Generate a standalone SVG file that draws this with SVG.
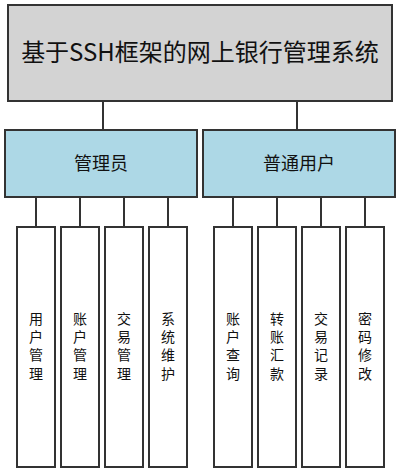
<svg xmlns="http://www.w3.org/2000/svg" width="400" height="473" viewBox="0 0 400 473">
<style>
.box{stroke:#333;stroke-width:2}
.root{fill:#d3d3d3}
.mid{fill:#add8e6}
.leaf{fill:#fff}
.t{font-family:"Noto Sans CJK SC","Noto Sans",sans-serif;fill:#111;text-anchor:middle}
.v{font-size:14px;writing-mode:vertical-rl;letter-spacing:4.3px}
.conn line{stroke:#333;stroke-width:2}
</style>
<rect width="400" height="473" fill="#fff"/>
<g class="conn">
<line x1="103" y1="101" x2="103" y2="130"/>
<line x1="297" y1="101" x2="297" y2="130"/>
<line x1="36" y1="197" x2="36" y2="227"/>
<line x1="80" y1="197" x2="80" y2="227"/>
<line x1="124" y1="197" x2="124" y2="227"/>
<line x1="168" y1="197" x2="168" y2="227"/>
<line x1="233" y1="197" x2="233" y2="227"/>
<line x1="277" y1="197" x2="277" y2="227"/>
<line x1="321" y1="197" x2="321" y2="227"/>
<line x1="365" y1="197" x2="365" y2="227"/>
</g>
<g id="root"><rect class="box root" x="8" y="5" width="384" height="96"/><text class="t" x="200" y="61" font-size="24">基于SSH框架的网上银行管理系统</text></g>
<g id="admin"><rect class="box mid" x="5" y="130" width="192" height="67"/><text class="t" x="101" y="170" font-size="18">管理员</text></g>
<g id="user"><rect class="box mid" x="203" y="130" width="192" height="67"/><text class="t" x="299" y="170" font-size="18">普通用户</text></g>
<g id="leaf1"><rect class="box leaf" x="17" y="227" width="38" height="240"/><text class="t v" x="36" y="348">用户管理</text></g>
<g id="leaf2"><rect class="box leaf" x="61" y="227" width="38" height="240"/><text class="t v" x="80" y="348">账户管理</text></g>
<g id="leaf3"><rect class="box leaf" x="105" y="227" width="38" height="240"/><text class="t v" x="124" y="348">交易管理</text></g>
<g id="leaf4"><rect class="box leaf" x="149" y="227" width="38" height="240"/><text class="t v" x="168" y="348">系统维护</text></g>
<g id="leaf5"><rect class="box leaf" x="214" y="227" width="38" height="240"/><text class="t v" x="233" y="348">账户查询</text></g>
<g id="leaf6"><rect class="box leaf" x="258" y="227" width="38" height="240"/><text class="t v" x="277" y="348">转账汇款</text></g>
<g id="leaf7"><rect class="box leaf" x="302" y="227" width="38" height="240"/><text class="t v" x="321" y="348">交易记录</text></g>
<g id="leaf8"><rect class="box leaf" x="346" y="227" width="38" height="240"/><text class="t v" x="365" y="348">密码修改</text></g>
</svg>
